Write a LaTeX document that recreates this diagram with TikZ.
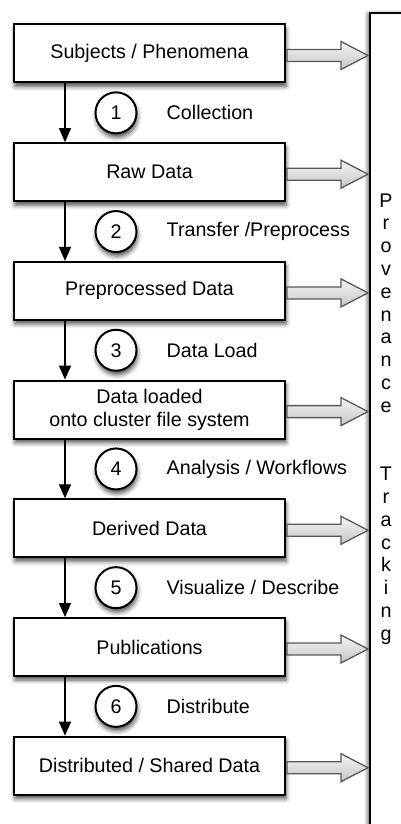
\documentclass[tikz,border=0pt]{standalone}
\usepackage{fontspec}
\setmainfont{Liberation Sans}
\usetikzlibrary{arrows.meta,shadows.blur}

\begin{document}
\begin{tikzpicture}[
    x=1pt, y=-1pt,
    softshadow/.style={blur shadow={shadow xshift=1pt, shadow yshift=-4pt,
        shadow blur radius=4.5pt, shadow opacity=70}},
    stagebox/.style={draw, line width=2pt, fill=white, minimum width=271pt,
        minimum height=58pt, inner sep=0pt, align=center,
        font=\fontsize{19.7}{23}\selectfont, softshadow},
    stepnum/.style={circle, draw, line width=2pt, fill=white, minimum size=41pt,
        inner sep=0pt, font=\fontsize{19.7}{23}\selectfont, softshadow},
    steplabel/.style={anchor=west, inner sep=0pt, font=\fontsize{19.7}{23}\selectfont},
    flowarrow/.style={-{Triangle[length=14pt,width=12pt]}, line width=1.3pt},
    hollowarrow/.style={draw=black!65, line width=1.3pt, line join=miter,
        top color=gray!8, bottom color=gray!45},
    panelbox/.style={draw, line width=2pt, fill=white, anchor=north west,
        minimum width=80pt, minimum height=860pt, inner sep=0pt,
        blur shadow={shadow xshift=-2pt, shadow yshift=-1pt,
        shadow blur radius=4.5pt, shadow opacity=65}},
    trackletter/.style={anchor=base, inner sep=0pt, font=\fontsize{19.7}{23}\selectfont}
  ]
  \useasboundingbox (0,0) rectangle (401,824);

  % provenance tracking panel on the right
  \node[panelbox] (panel) at (369,12) {};
  \foreach \ch [count=\k from 0] in {P,r,o,v,e,n,a,n,c,e,{},{},T,r,a,c,k,i,n,g}
    \node[trackletter] (pt\k) at (386, {207+22.8*\k}) {\ch};

  % data stages
  \foreach \i/\txt in {0/{Subjects / Phenomena}, 1/{Raw Data},
                       2/{Preprocessed Data}, 3/{Data loaded\\onto cluster file system},
                       4/{Derived Data}, 5/{Publications},
                       6/{Distributed / Shared Data}}
    \node[stagebox] (b\i) at (149.5, {53.5+118.7*\i}) {\txt};

  % hollow arrows into the tracking panel
  \foreach \i in {0,...,6}
    \draw[hollowarrow] ([xshift=1pt, yshift=4pt]b\i.east) -- ++(54,0) -- ++(0,-8)
      -- ++(27,14) -- ++(-27,14) -- ++(0,-8) -- ++(-54,0) -- cycle;

  % numbered steps between stages
  \foreach \i/\txt in {1/Collection, 2/{Transfer /Preprocess}, 3/{Data Load},
                       4/{Analysis / Workflows}, 5/{Visualize / Describe}, 6/Distribute} {
    \pgfmathtruncatemacro\j{\i-1}
    \node[stepnum] (c\i) at (116, {112.85+118.7*\j}) {\i};
    \node[steplabel] (l\i) at (166.5, {112.85+118.7*\j}) {\txt};
    \draw[flowarrow] ([xshift=-84.5pt]b\j.south) -- ([xshift=-84.5pt]b\i.north);
  }
\end{tikzpicture}
\end{document}
